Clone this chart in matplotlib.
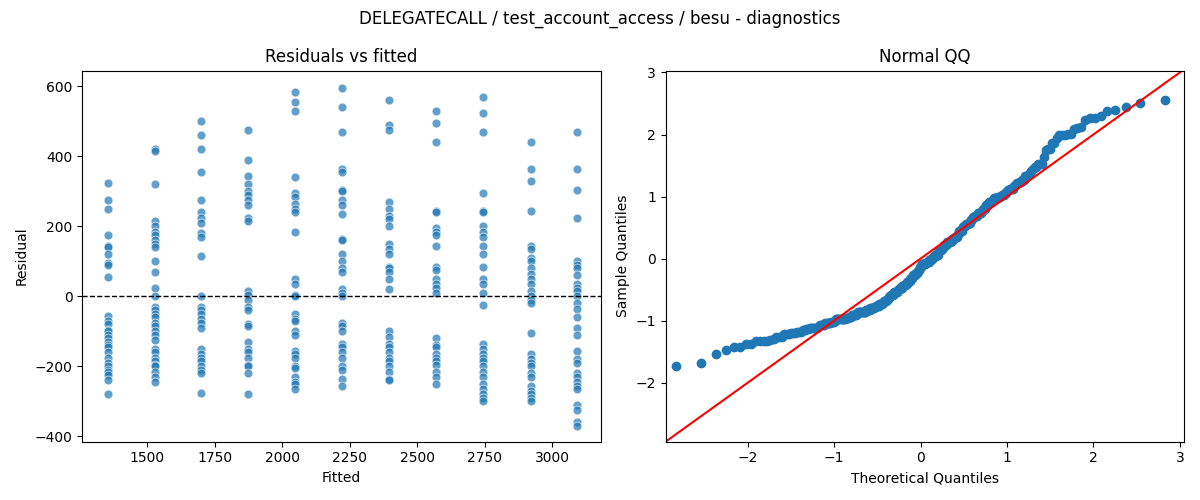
import numpy as np
import matplotlib
matplotlib.use("Agg")
import matplotlib.pyplot as plt
from statistics import NormalDist

fitted_levels = [1355, 1530, 1700, 1873, 2048, 2222, 2396, 2570, 2745, 2920, 3093]
res_1355 = [325, 275, 250, 175, 145, 140, 120, 95, 90, 55, -55, -70, -80, -95, -100, -110, -120, -130, -140, -145, -160, -175, -190, -200, -210, -215, -225, -240, -280]
res_1530 = [420, 415, 320, 215, 200, 185, 175, 160, 150, 140, 100, 70, 25, 0, -30, -40, -50, -60, -75, -85, -100, -110, -125, -150, -160, -175, -185, -195, -200, -215, -230, -245]
res_1700 = [500, 460, 420, 355, 275, 240, 225, 210, 180, 170, 115, 0, -30, -40, -50, -65, -75, -90, -150, -165, -175, -185, -200, -210, -220, -275]
res_1873 = [475, 390, 345, 320, 300, 290, 275, 260, 225, 215, 15, 5, -10, -30, -40, -80, -85, -130, -150, -160, -175, -195, -200, -220, -280]
res_2048 = [585, 555, 530, 340, 295, 285, 265, 250, 240, 185, 50, 35, 5, 0, -50, -65, -70, -100, -110, -155, -165, -175, -200, -205, -230, -245, -250, -265]
res_2222 = [595, 540, 470, 365, 355, 305, 300, 275, 260, 235, 165, 160, 120, 100, 80, 70, 20, 10, 0, -75, -85, -100, -135, -145, -160, -175, -200, -210, -235, -255]
res_2396 = [560, 490, 475, 270, 250, 230, 220, 200, 150, 135, 120, 85, 80, 70, 50, 20, -100, -115, -135, -145, -160, -175, -185, -200, -215, -235, -240]
res_2570 = [530, 495, 440, 245, 240, 195, 185, 175, 145, 85, 75, 50, 35, 25, 10, -120, -140, -145, -165, -175, -185, -195, -215, -230, -250]
res_2745 = [570, 525, 470, 295, 245, 240, 200, 185, 170, 145, 120, 85, 50, 35, 10, -25, -135, -150, -165, -175, -185, -200, -215, -230, -250, -265, -280, -290, -300]
res_2920 = [440, 365, 330, 245, 145, 135, 110, 100, 80, 65, 50, 35, 15, 0, -10, -20, -105, -165, -180, -190, -200, -220, -230, -255, -270, -280, -290, -300]
res_3093 = [470, 365, 305, 225, 100, 90, 80, 60, 35, 25, 15, 0, -20, -35, -60, -90, -110, -155, -180, -190, -220, -230, -245, -255, -265, -310, -325, -360, -370]

groups = [res_1355, res_1530, res_1700, res_1873, res_2048, res_2222,
          res_2396, res_2570, res_2745, res_2920, res_3093]
fitted = np.concatenate([[f] * len(g) for f, g in zip(fitted_levels, groups)])
resid = np.concatenate(groups).astype(float)

fig, (ax1, ax2) = plt.subplots(1, 2, figsize=(12, 5), dpi=100)
fig.suptitle("DELEGATECALL / test_account_access / besu - diagnostics")

ax1.scatter(fitted, resid, s=40, color="#1f77b4", alpha=0.7, edgecolors="white", linewidths=0.6)
ax1.axhline(0, color="black", linestyle="--", linewidth=1)
ax1.set_title("Residuals vs fitted")
ax1.set_xlabel("Fitted")
ax1.set_ylabel("Residual")
ax1.set_xlim(1260, 3180)
ax1.set_ylim(-415, 645)

z = np.sort((resid - resid.mean()) / resid.std(ddof=0))
n = len(z)
nd = NormalDist()
a = 0.27
theo = np.array([nd.inv_cdf((i - a) / (n + 1 - 2 * a)) for i in range(1, n + 1)])
ax2.plot(theo, z, "o", color="#1f77b4", markersize=6)
ax2.set_xlim(-2.95, 3.05)
ax2.set_ylim(-2.95, 3.03)
ax2.plot([-4, 4], [-4, 4], color="red")
ax2.set_title("Normal QQ")
ax2.set_xlabel("Theoretical Quantiles")
ax2.set_ylabel("Sample Quantiles")

fig.tight_layout()
fig.savefig("out.png")
